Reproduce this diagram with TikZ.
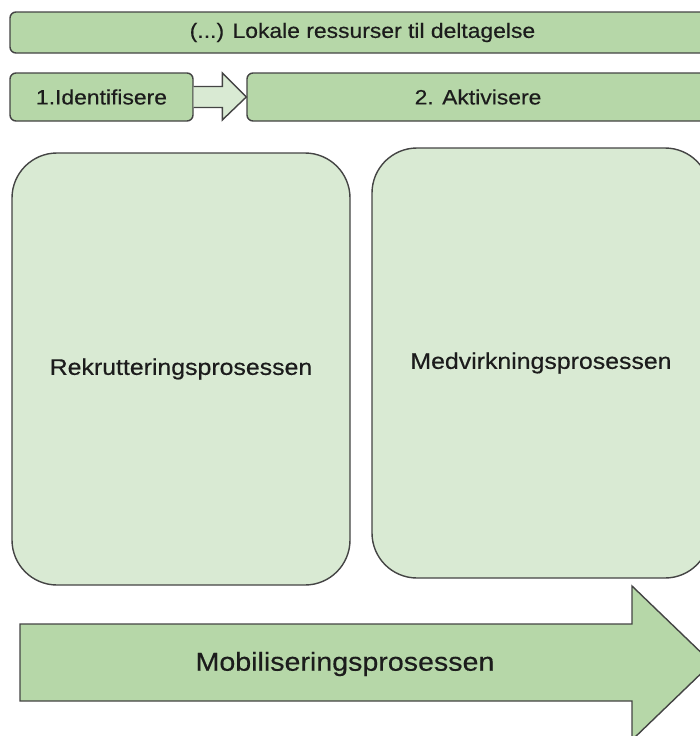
\documentclass[tikz,border=0pt]{standalone}
\usepackage{fontspec}
\setmainfont{Liberation Sans}[FakeStretch=1.1, FakeBold=0.4]
\usetikzlibrary{positioning}
\usetikzlibrary{calc}

\definecolor{darkgreen}{HTML}{B6D7A8}
\definecolor{lightgreen}{HTML}{D9EAD3}
\definecolor{edgegrey}{HTML}{444444}
\definecolor{inkgrey}{HTML}{1C1C1C}

\tikzset{
  bar/.style = {draw = edgegrey, line width = 1.4pt, fill = darkgreen, rounded corners = 6pt,
                inner sep = 0pt, text = inkgrey, font = \fontsize{20.8}{25}\selectfont},
  phase/.style = {draw = edgegrey, line width = 1.4pt, fill = lightgreen, rounded corners = 45pt,
                  inner sep = 0pt, text = inkgrey, font = \fontsize{22.6}{27}\selectfont},
}

\begin{document}
\begin{tikzpicture}[x = 1pt, y = -1pt]
					\useasboundingbox (0, 0) rectangle (700, 736);
					\clip (0, 0) rectangle (700, 736);
					% top row
					\node [bar, minimum width = 705pt, minimum height = 41pt] (ressurser) at (362.5, 32.5) {(...) Lokale ressurser til deltagelse};
					\node [bar, minimum width = 183pt, minimum height = 48pt] (ident) at (101.5, 97) {1.Identifisere};
					\node [bar, minimum width = 462pt, minimum height = 48pt] (aktiv) at (478, 97) {2. Aktivisere};
					\draw [edgegrey, line width = 1.4pt, fill = lightgreen, line join = miter]
						([yshift = 10.5pt] ident.east) -- ([xshift = -24pt, yshift = 10.5pt] aktiv.west)
						-- ([xshift = -24pt, yshift = 24pt] aktiv.west) -- (aktiv.west)
						-- ([xshift = -24pt, yshift = -23pt] aktiv.west) -- ([xshift = -24pt, yshift = -10.5pt] aktiv.west)
						-- ([yshift = -10.5pt] ident.east);
					% the two processes
					\node [phase, minimum width = 338pt, minimum height = 432pt] (rekrut) at (181, 369) {Rekrutteringsprosessen};
					\node [phase, minimum width = 338pt, minimum height = 430pt] (medvirk) at (541, 363) {Medvirkningsprosessen};
					% big arrow
					\draw [edgegrey, line width = 1.4pt, fill = darkgreen, line join = miter]
						(20, 624) -- (632, 624) -- (632, 586) -- (712, 663) -- (632, 740) -- (632, 701) -- (20, 701) -- cycle;
					\node [text = inkgrey, font = \fontsize{26}{31}\selectfont] (mobil) at (345, 664) {Mobiliseringsprosessen};
				\end{tikzpicture}
\end{document}
